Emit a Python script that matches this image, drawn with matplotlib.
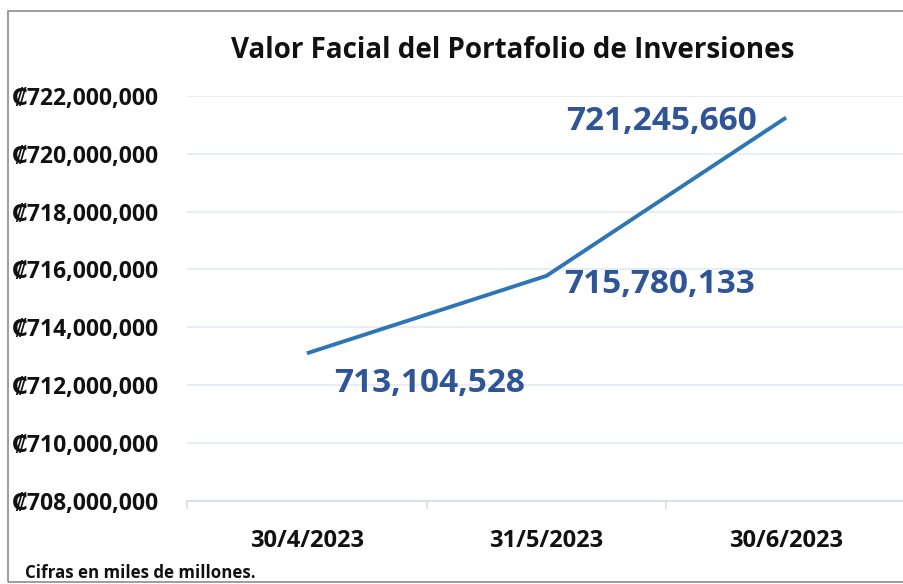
import matplotlib
matplotlib.use("Agg")
import matplotlib.pyplot as plt
from matplotlib.patches import Rectangle
from matplotlib.ticker import FuncFormatter, FixedLocator

fechas = ["30/4/2023", "31/5/2023", "30/6/2023"]
valores = [713104528, 715780133, 721245660]
yticks = list(range(708000000, 722000001, 2000000))

FONT = ["Open Sans", "DejaVu Sans"]
plt.rcParams["font.family"] = FONT

LINE = "#2e75b6"
LABEL = "#2f5597"
GRID = "#e4e9f1"

fig = plt.figure(figsize=(9.04, 5.84), dpi=100)
ax = fig.add_axes([0.207, 0.142, 0.795, 0.694])

x = list(range(len(fechas)))
ax.plot(x, valores, color=LINE, linewidth=2.8, solid_capstyle="butt")

ax.set_xlim(-0.5, 2.5)
ax.set_ylim(yticks[0], yticks[-1])
ax.set_yticks(yticks)
ax.yaxis.set_major_formatter(FuncFormatter(lambda v, p: "\u20a1{:,.0f}".format(v)))
ax.set_xticks(x)
ax.set_xticklabels(fechas)
ax.xaxis.set_minor_locator(FixedLocator([-0.5, 0.5, 1.5, 2.5]))

ax.grid(axis="y", color=GRID, linewidth=1.2)
ax.set_axisbelow(True)
for s in ["top", "right", "left"]:
    ax.spines[s].set_visible(False)
ax.spines["bottom"].set_color("#d6dde8")
ax.spines["bottom"].set_linewidth(1.2)

ax.tick_params(axis="y", length=0, pad=126, labelsize=16.5)
ax.tick_params(axis="x", which="major", length=0, pad=20, labelsize=17)
ax.tick_params(axis="x", which="minor", length=6, color="#d6dde8", width=1.2)
for t in ax.get_yticklabels():
    t.set_ha("left")
    t.set_fontweight("bold")
    t.set_color("#111111")
for t in ax.get_xticklabels():
    t.set_fontweight("bold")
    t.set_color("#111111")

# data labels
offsets = [(0.51, -1.05, "center"), (0.47, -0.3, "center"), (-0.52, -0.15, "center")]
for xi, v, (dx, dy, ha) in zip(x, valores, offsets):
    ax.text(xi + dx, v + dy * 1e6, "{:,.0f}".format(v), color=LABEL,
            fontsize=24, fontweight="bold", ha=ha, va="center")

fig.text(0.567, 0.913, "Valor Facial del Portafolio de Inversiones",
         fontsize=20, fontweight="bold", ha="center", va="center", color="#111111")
fig.text(0.028, 0.018, "Cifras en miles de millones.", fontsize=12.2,
         fontweight="bold", ha="left", va="center", color="#111111")

# chart border
fig.patches.append(Rectangle((0.009, 0.004), 1.2, 0.978, transform=fig.transFigure,
                             fill=False, edgecolor="#8c8c8c", linewidth=1.2))

fig.savefig("out.png", dpi=100)
